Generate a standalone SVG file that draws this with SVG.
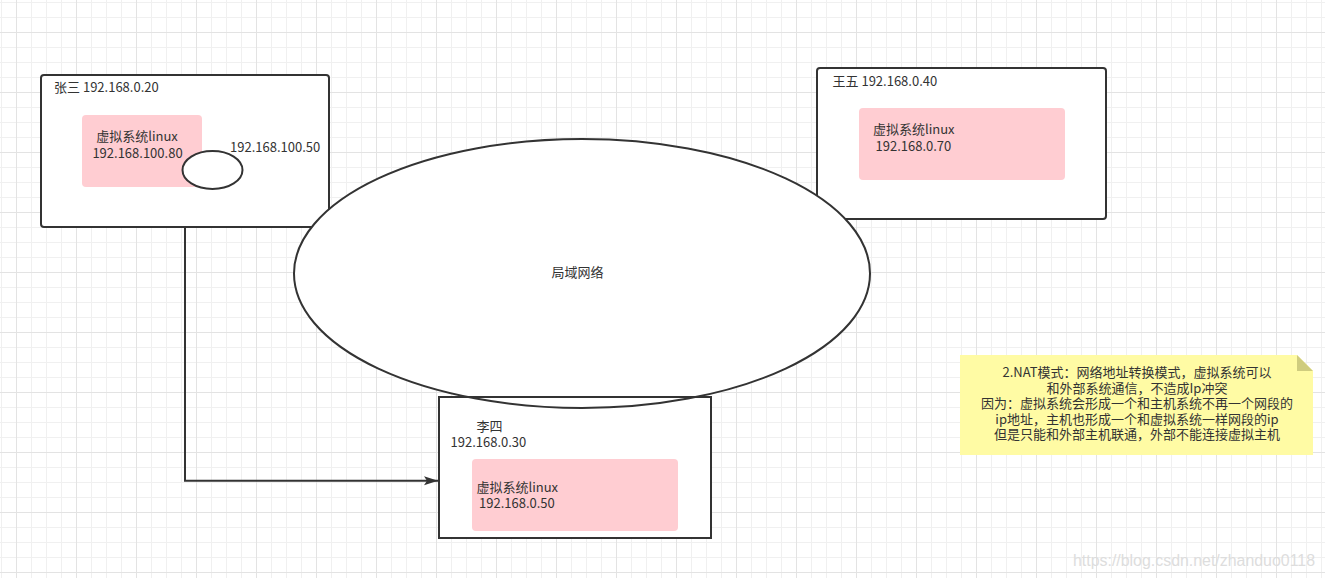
<svg xmlns="http://www.w3.org/2000/svg" width="1325" height="578" viewBox="0 0 1325 578">
  <defs>
    <pattern id="minor" x="1" y="2" width="15" height="15" patternUnits="userSpaceOnUse">
      <path d="M0.5,0 V15 M0,0.5 H15" fill="none" stroke="#f0f0f0" stroke-width="1"/>
    </pattern>
    <pattern id="major" x="16" y="32" width="60" height="60" patternUnits="userSpaceOnUse">
      <path d="M0.5,0 V60 M0,0.5 H60" fill="none" stroke="#e3e3e3" stroke-width="1"/>
    </pattern>
    <marker id="arrow" markerUnits="userSpaceOnUse" markerWidth="14" markerHeight="10" refX="14" refY="5" orient="auto">
      <path d="M0,0.5 L14,5 L0,9.5 L3,5 Z" fill="#333333"/>
    </marker>
    <style>
      .box { fill: #ffffff; stroke: #333333; stroke-width: 2; }
      .vm { fill: #ffcdd2; stroke: none; }
      .t { font-family: "Microsoft YaHei", "Noto Sans CJK SC", sans-serif; font-size: 13px; fill: #333333; }
      .c { text-anchor: middle; }
      .edge { fill: none; stroke: #333333; stroke-width: 2; }
    </style>
  </defs>

  <rect width="1325" height="578" fill="#ffffff"/>
  <rect width="1325" height="578" fill="url(#minor)"/>
  <rect width="1325" height="578" fill="url(#major)"/>

  <g id="zhangsan">
    <rect class="box" x="41" y="75" width="288" height="152" rx="3"/>
    <rect class="vm" x="82" y="115" width="120" height="72" rx="4"/>
    <text class="t" x="54" y="92">张三 192.168.0.20</text>
    <text class="t c" x="137" y="141">虚拟系统linux</text>
    <text class="t c" x="137.5" y="157.5">192.168.100.80</text>
    <ellipse cx="212.5" cy="170" rx="30" ry="19" fill="#ffffff" stroke="#333333" stroke-width="2"/>
    <text class="t" x="230" y="152">192.168.100.50</text>
  </g>

  <g id="wangwu">
    <rect class="box" x="817" y="68" width="289" height="151" rx="3"/>
    <rect class="vm" x="859" y="108" width="206" height="72" rx="4"/>
    <text class="t" x="832.5" y="86">王五 192.168.0.40</text>
    <text class="t" x="873" y="134">虚拟系统linux</text>
    <text class="t" x="875.5" y="150.5">192.168.0.70</text>
  </g>

  <g id="lisi-bg">
    <rect x="439" y="397" width="272" height="141" fill="#ffffff"/>
  </g>

  <g id="lan">
    <ellipse cx="582" cy="273.5" rx="288" ry="134.5" fill="#ffffff" stroke="#333333" stroke-width="2"/>
    <text class="t c" x="577.5" y="277">局域网络</text>
  </g>

  <g id="lisi">
    <rect x="439" y="397" width="272" height="141" fill="none" stroke="#333333" stroke-width="2"/>
    <rect class="vm" x="472" y="459" width="206" height="72" rx="4"/>
    <text class="t" x="476.5" y="431">李四</text>
    <text class="t" x="450.5" y="447">192.168.0.30</text>
    <text class="t" x="476.5" y="491.5">虚拟系统linux</text>
    <text class="t" x="479" y="507.5">192.168.0.50</text>
  </g>

  <g id="connectors">
    <path class="edge" d="M185,227 V480.7 H438" marker-end="url(#arrow)"/>
  </g>

  <g id="note">
    <path d="M960,355 H1297 L1313,371 V455 H960 Z" fill="#fffba4"/>
    <path d="M1297,355 L1313,371 H1297 Z" fill="#cfcc7e"/>
    <text class="t c" x="1137" y="377">2.NAT模式：网络地址转换模式，虚拟系统可以</text>
    <text class="t c" x="1137" y="392.5">和外部系统通信，不造成Ip冲突</text>
    <text class="t c" x="1137" y="408">因为：虚拟系统会形成一个和主机系统不再一个网段的</text>
    <text class="t c" x="1137" y="423.5">ip地址，主机也形成一个和虚拟系统一样网段的ip</text>
    <text class="t c" x="1137" y="439">但是只能和外部主机联通，外部不能连接虚拟主机</text>
  </g>

  <text x="1073" y="566" font-family="'Liberation Sans', Arial, sans-serif" font-size="16" fill="#dddddd" textLength="242" lengthAdjust="spacingAndGlyphs">https://blog.csdn.net/zhanduo0118</text>
</svg>
